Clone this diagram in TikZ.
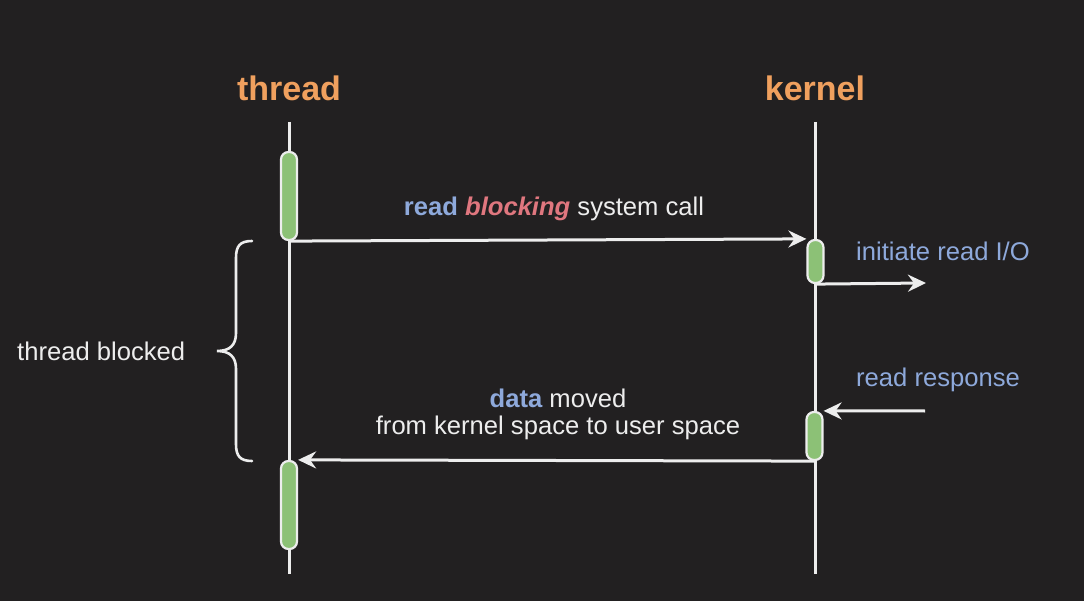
\documentclass[tikz,border=0pt]{standalone}
\usepackage{fontspec}
\setmainfont{Liberation Sans}
\usetikzlibrary{arrows.meta}
\definecolor{bg}{HTML}{222021}
\definecolor{ttl}{HTML}{F0A05E}
\definecolor{bluet}{HTML}{8EA9DB}
\definecolor{pinkt}{HTML}{E0777F}
\definecolor{wht}{HTML}{EDEDED}
\definecolor{barg}{HTML}{8CC176}
\tikzset{
  lifeline/.style={draw=wht, line width=3pt},
  actbar/.style={draw=wht, fill=barg, line width=2.2pt, rounded corners=7.5pt, minimum width=16pt, inner sep=0pt},
  msg/.style={draw=wht, line width=3pt, -{Stealth[length=18pt,width=17pt,inset=6pt]}},
  title/.style={text=ttl, font=\fontsize{34}{40}\selectfont\bfseries},
  lbl/.style={text=wht, font=\fontsize{25.6}{30}\selectfont, align=center, inner sep=0pt},
}
\begin{document}
\begin{tikzpicture}[x=1pt,y=-1pt]
\fill[bg] (0,0) rectangle (1084,601);
\useasboundingbox (0,0) rectangle (1084,601);
% titles
\node[title] (tth) at (289,88) {thread};
\node[title] (tkn) at (815,88) {kernel};
% lifelines
\coordinate (ttop) at (289,122);
\coordinate (tbot) at (289,574);
\coordinate (ktop) at (815,122);
\coordinate (kbot) at (815,574);
\draw[lifeline] (ttop) -- (tbot);
\draw[lifeline] (ktop) -- (kbot);
% activation bars
\node[actbar, minimum height=88pt] (tb1) at (289,196) {};
\node[actbar, minimum height=43pt] (kb1) at (815.5,261.5) {};
\node[actbar, minimum height=48pt] (kb2) at (814.5,436) {};
\node[actbar, minimum height=88pt] (tb2) at (289,505) {};
% messages
\draw[msg] (tb1.south) -- (kb1.north west);
\coordinate (ioend) at (926,283);
\draw[msg] (kb1.south) -- (ioend);
\coordinate (respstart) at (925,411);
\draw[msg] (respstart) -- (kb2.north east);
\draw[msg] (kb2.south) -- (tb2.north east);
% labels
\node[lbl] (l1) at (554,209) {\textcolor{bluet}{\bfseries read} \textcolor{pinkt}{\bfseries\itshape blocking} system call};
\node[lbl, text=bluet, anchor=west] (l2) at (856,251) {initiate read I/O};
\node[lbl, text=bluet, anchor=west] (l3) at (856,380) {read response};
\node[lbl] (l4) at (558,398) {\textcolor{bluet}{\bfseries data} moved};
\node[lbl] (l5) at (558,428) {from kernel space to user space};
\node[lbl, anchor=west] (l6) at (17,351) {thread blocked};
% brace
\draw[wht, line width=2.6pt, line cap=round]
  (252,241) .. controls (240,241) and (236,246) .. (236,258)
  -- (236,333) .. controls (236,345) and (230,351) .. (217,351)
  .. controls (230,351) and (236,357) .. (236,369)
  -- (236,444) .. controls (236,456) and (240,461) .. (252,461);
\end{tikzpicture}
\end{document}
